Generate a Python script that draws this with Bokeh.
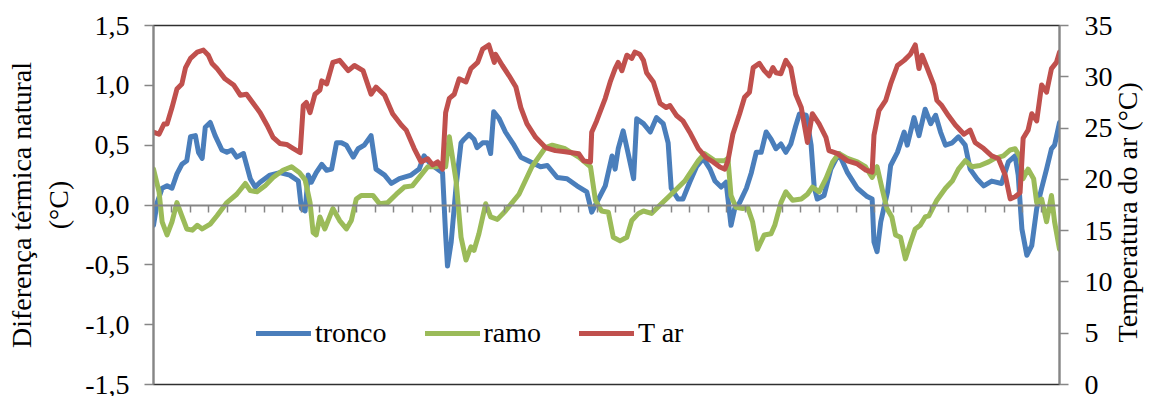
from math import pi
from bokeh.plotting import figure
from bokeh.models import Range1d, LinearAxis, FixedTicker
from bokeh.embed import file_html
from bokeh.resources import INLINE

# ---------------- data (hours from start) ----------------
t_tronco = [0.0, 0.6, 1.4, 2.2, 3.0, 3.8, 4.6, 5.4, 6.0, 6.8, 7.3, 7.9, 8.4, 9.2, 10.0, 11.1, 11.9, 12.7,
            13.5, 14.6, 15.7, 16.5, 17.3, 18.9, 20.5, 22.1, 23.5, 24.0, 24.6, 25.1, 25.6, 26.4, 27.3, 28.1,
            28.9, 29.7, 30.5, 31.3, 32.4, 33.2, 34.2, 35.3, 36.1, 37.5, 38.6, 39.9, 41.8, 43.1, 43.9, 45.0,
            46.1, 46.9, 47.4, 47.7, 48.3, 49.1, 49.9, 50.4, 51.2, 52.0, 52.5, 53.4, 54.2, 54.7, 55.2, 56.1,
            57.1, 58.5, 59.6, 61.2, 62.8, 63.9, 65.5, 67.1, 68.7, 70.3, 71.1, 71.9, 73.3, 74.4, 74.9, 75.4,
            76.2, 77.1, 77.9, 78.4, 79.5, 80.6, 81.6, 82.7, 83.5, 84.0, 85.1, 85.9, 87.0, 88.1, 89.2, 90.3,
            91.1, 92.1, 92.9, 93.7, 94.3, 95.1, 96.2, 97.0, 97.8, 98.6, 99.4, 100.2, 101.0, 101.8, 102.6,
            103.4, 104.2, 104.8, 105.9, 106.7, 107.2, 107.7, 108.8, 109.9, 111.2, 112.6, 114.2, 115.8, 116.6,
            116.9, 117.4, 118.0, 119.1, 119.6, 120.7, 121.8, 122.3, 123.4, 124.2, 124.7, 125.2, 126.1, 126.9,
            127.7, 128.5, 129.6, 130.6, 131.7, 132.5, 133.6, 134.7, 136.0, 137.6, 138.7, 139.8, 140.3, 140.9,
            141.7, 142.5, 143.3, 144.1, 144.9, 145.7, 146.2, 147.0]
tronco = [-0.17, 0.02, 0.14, 0.16, 0.14, 0.26, 0.34, 0.37, 0.57, 0.58, 0.44, 0.39, 0.65, 0.69, 0.58, 0.46, 0.44, 0.46,
          0.40, 0.43, 0.22, 0.15, 0.19, 0.25, 0.27, 0.25, 0.20, -0.03, -0.05, 0.25, 0.19, 0.27, 0.34, 0.29,
          0.30, 0.52, 0.52, 0.50, 0.40, 0.47, 0.50, 0.58, 0.30, 0.25, 0.18, 0.22, 0.25, 0.30, 0.41, 0.34,
          0.30, 0.27, -0.25, -0.51, -0.31, 0.16, 0.52, 0.55, 0.59, 0.55, 0.48, 0.52, 0.52, 0.43, 0.78, 0.72,
          0.61, 0.50, 0.40, 0.36, 0.32, 0.33, 0.23, 0.22, 0.16, 0.11, -0.06, 0.02, 0.16, 0.41, 0.30, 0.47,
          0.62, 0.41, 0.22, 0.72, 0.68, 0.61, 0.73, 0.68, 0.52, 0.14, 0.05, 0.05, 0.19, 0.32, 0.39, 0.30,
          0.20, 0.15, 0.19, -0.17, -0.03, 0.02, 0.14, 0.27, 0.44, 0.44, 0.61, 0.55, 0.47, 0.51, 0.44,
          0.51, 0.66, 0.76, 0.75, 0.50, 0.15, 0.05, 0.08, 0.30, 0.43, 0.27, 0.14, 0.07, 0.05,
          -0.31, -0.39, -0.14, 0.11, 0.33, 0.44, 0.61, 0.50, 0.73, 0.58, 0.69, 0.80, 0.68, 0.75,
          0.61, 0.50, 0.52, 0.57, 0.50, 0.30, 0.22, 0.16, 0.20, 0.18, 0.36, 0.41, 0.25, -0.20,
          -0.42, -0.34, -0.03, 0.14, 0.30, 0.47, 0.50, 0.69]

t_ramo = [0.0, 0.9, 1.4, 2.2, 3.0, 3.8, 4.6, 5.4, 6.3, 7.1, 7.9, 9.2, 10.3, 11.9, 13.5, 14.9, 15.7, 16.8, 18.1,
          19.4, 21.0, 22.4, 23.7, 24.6, 25.4, 25.9, 26.4, 27.0, 27.8, 29.1, 30.2, 31.3, 32.1, 32.9, 33.7,
          35.6, 36.7, 38.0, 39.4, 40.7, 42.0, 43.4, 44.5, 45.8, 46.6, 47.4, 48.0, 49.1, 49.9, 50.7, 51.5,
          52.0, 52.8, 53.9, 54.7, 55.8, 57.1, 59.3, 61.4, 63.6, 64.7, 66.8, 69.0, 70.9, 71.7, 72.7, 73.8,
          74.6, 75.7, 76.8, 77.6, 78.7, 79.5, 80.8, 82.4, 84.0, 86.2, 88.4, 89.4, 91.1, 92.7, 93.2, 93.7,
          94.5, 95.6, 96.4, 97.2, 98.0, 99.1, 100.2, 100.8, 101.8, 102.6, 103.7, 105.1, 106.1, 106.9, 108.0,
          109.1, 110.2, 111.2, 112.6, 114.2, 115.5, 116.6, 117.4, 118.2, 119.0, 119.8, 120.4, 121.2, 122.0,
          122.8, 123.6, 124.4, 125.2, 125.8, 127.1, 128.5, 129.6, 130.6, 131.7, 132.8, 134.1, 135.5, 136.5,
          137.9, 139.0, 139.8, 140.6, 141.1, 141.9, 142.8, 143.3, 144.1, 144.9, 145.7, 146.2, 147.0]
ramo = [0.30, 0.11, -0.14, -0.25, -0.14, 0.02, -0.09, -0.20, -0.21, -0.17, -0.20, -0.16, -0.09, 0.02, 0.09, 0.18, 0.12, 0.11, 0.16,
        0.23, 0.29, 0.32, 0.27, 0.21, 0.02, -0.23, -0.25, -0.10, -0.20, -0.03, -0.13, -0.20, -0.13, 0.05, 0.08,
        0.08, 0.01, 0.02, 0.09, 0.15, 0.16, 0.25, 0.32, 0.32, 0.33, 0.32, 0.57, 0.20, -0.27, -0.46, -0.35,
        -0.38, -0.24, 0.01, -0.10, -0.12, -0.05, 0.09, 0.32, 0.48, 0.50, 0.47, 0.40, 0.32, 0.04, -0.05, -0.06,
        -0.27, -0.30, -0.27, -0.13, -0.07, -0.05, -0.07, 0.01, 0.09, 0.20, 0.37, 0.43, 0.37, 0.37, 0.39, 0.08,
        -0.02, -0.03, -0.02, -0.14, -0.37, -0.25, -0.24, -0.17, 0.02, 0.11, 0.04, 0.05, 0.09, 0.15, 0.11,
        0.22, 0.36, 0.43, 0.39, 0.36, 0.32, 0.23, 0.32, 0.14, -0.03, -0.10, -0.25, -0.27, -0.45,
        -0.32, -0.20, -0.17, -0.10, -0.09, 0.04, 0.14, 0.20, 0.30, 0.37, 0.32, 0.33, 0.36, 0.39,
        0.41, 0.46, 0.47, 0.40, 0.22, 0.30, 0.22, 0.02, 0.05, -0.14, 0.08, -0.14, -0.37]

t_ar = [0.0, 0.9, 1.7, 2.2, 3.0, 3.8, 4.6, 5.2, 6.0, 7.1, 8.1, 8.9, 9.5, 10.3, 11.6, 13.0, 14.1, 15.1, 16.2,
        17.3, 18.4, 19.4, 20.5, 21.6, 22.7, 23.8, 24.3, 24.8, 25.4, 26.2, 27.0, 27.3, 28.1, 29.1, 30.2,
        31.6, 32.6, 34.0, 35.3, 36.1, 37.5, 38.8, 40.2, 41.0, 42.3, 43.4, 44.5, 45.3, 46.1, 46.9, 47.4,
        48.0, 48.8, 49.6, 50.7, 51.5, 52.6, 53.4, 54.4, 55.3, 55.5, 56.6, 57.7, 58.8, 59.6, 60.6, 62.0,
        63.6, 65.2, 66.8, 69.0, 69.8, 70.9, 71.1, 71.9, 73.3, 74.1, 74.9, 75.4, 76.0, 76.8, 77.6, 78.1,
        78.9, 79.5, 80.0, 81.1, 82.2, 83.2, 83.8, 84.9, 85.9, 87.0, 88.4, 89.7, 90.8, 91.9, 92.7, 93.2,
        94.0, 95.1, 95.9, 96.7, 97.3, 98.3, 99.1, 99.9, 100.5, 101.0, 101.8, 102.6, 103.4, 104.2, 105.1,
        106.1, 106.9, 108.0, 109.1, 109.6, 111.0, 112.6, 114.2, 115.6, 116.6, 116.9, 117.7, 118.8, 119.6,
        120.7, 121.8, 122.8, 123.6, 124.2, 124.7, 125.5, 126.6, 127.1, 127.9, 129.0, 130.1, 131.5, 132.5,
        133.3, 134.7, 136.0, 137.1, 138.2, 139.0, 139.8, 140.6, 141.1, 141.9, 142.5, 143.3, 144.1, 144.9,
        145.7, 146.5, 147.0]
t_ar_vals = [24.6, 24.4, 25.4, 25.4, 27.0, 28.8, 29.3, 30.9, 31.8, 32.4, 32.6, 32.1, 31.3, 30.8, 29.8, 29.2, 28.2, 28.3, 27.4,
             26.5, 25.3, 24.1, 23.5, 23.4, 23.0, 22.6, 27.2, 27.5, 26.5, 28.3, 28.7, 29.6, 29.3, 31.4, 31.6,
             30.6, 31.1, 30.6, 28.3, 29.0, 28.2, 26.4, 25.3, 24.8, 23.0, 21.7, 22.0, 21.4, 21.7, 21.0, 26.5,
             27.9, 28.3, 29.8, 29.5, 30.8, 31.4, 32.7, 33.1, 31.4, 32.2, 31.1, 30.1, 29.0, 27.0, 25.4, 24.1,
             23.1, 22.8, 22.7, 22.5, 21.8, 21.7, 24.6, 25.7, 27.9, 29.5, 30.8, 31.4, 30.6, 32.1, 31.8, 32.4,
             32.2, 31.6, 30.4, 29.5, 27.4, 27.0, 27.2, 26.2, 25.7, 24.6, 23.0, 22.1, 21.7, 21.2, 21.0, 21.8,
             24.4, 26.4, 28.0, 28.5, 30.9, 31.3, 30.6, 30.1, 30.9, 30.4, 30.3, 31.6, 30.9, 28.3, 27.0,
             23.6, 26.4, 25.4, 24.1, 22.8, 22.5, 21.8, 21.5, 20.9, 20.7, 24.3, 26.7, 27.7, 29.3,
             31.1, 31.6, 32.2, 33.1, 30.8, 32.1, 30.9, 29.2, 27.7, 27.2, 26.2, 25.3, 24.4, 24.8,
             23.6, 23.0, 22.3, 22.0, 20.4, 18.1, 18.3, 18.7, 24.0, 24.8, 26.4, 25.7, 29.2, 28.5,
             30.8, 31.4, 32.4]

left_ticks = [-1.5, -1.0, -0.5, 0.0, 0.5, 1.0, 1.5]
left_tick_labels = ["-1,5", "-1,0", "-0,5", "0,0", "0,5", "1,0", "1,5"]
right_ticks = [0, 5, 10, 15, 20, 25, 30, 35]
right_tick_labels = ["0", "5", "10", "15", "20", "25", "30", "35"]
x_ticks = list(range(0, 148, 3))

series_names = ["tronco", "ramo", "T ar"]
left_title = "Diferença térmica natural\n(°C)"
right_title = "Temperatura do ar (°C)"

# ---------------- styling ----------------
FONT = "Liberation Serif"
BLUE, GREEN, RED = "#4A7EBB", "#9BBB59", "#C0504D"
AXIS_GRAY = "#868686"

p = figure(width=1161, height=396, x_range=Range1d(0, 147), y_range=Range1d(-1.5, 1.5),
           output_backend="svg", toolbar_location=None,
           min_border_left=153, min_border_right=98, min_border_top=25, min_border_bottom=12)
p.extra_y_ranges = {"temp": Range1d(0, 35)}
p.grid.visible = False
p.outline_line_color = "#303030"
p.outline_line_width = 1.5
p.background_fill_color = "white"
p.border_fill_color = "white"

# x axis drawn on the zero line (tick marks only)
xa = p.xaxis[0]
xa.fixed_location = 0
xa.ticker = FixedTicker(ticks=x_ticks)
xa.major_label_text_color = None
xa.axis_line_color = AXIS_GRAY
xa.axis_line_width = 2
xa.major_tick_line_color = AXIS_GRAY
xa.major_tick_line_width = 1.5
xa.major_tick_out = 7
xa.major_tick_in = 0
xa.minor_tick_line_color = None


def style_y(ax):
    ax.axis_line_color = AXIS_GRAY
    ax.axis_line_width = 2
    ax.major_tick_line_color = AXIS_GRAY
    ax.major_tick_line_width = 1.5
    ax.major_tick_out = 9
    ax.major_tick_in = 0
    ax.minor_tick_line_color = None
    ax.major_label_text_font = FONT
    ax.major_label_text_font_size = "28px"
    ax.major_label_text_color = "black"
    ax.major_label_standoff = 15
    ax.axis_label_text_font = FONT
    ax.axis_label_text_font_size = "28px"
    ax.axis_label_text_font_style = "normal"
    ax.axis_label_text_color = "black"


ya = p.yaxis[0]
ya.ticker = FixedTicker(ticks=left_ticks)
ya.major_label_overrides = {k: v for k, v in zip(left_ticks, left_tick_labels)}
style_y(ya)
ya.axis_label = left_title
ya.axis_label_standoff = 8

ra = LinearAxis(y_range_name="temp", ticker=FixedTicker(ticks=right_ticks),
                major_label_overrides={k: v for k, v in zip(right_ticks, right_tick_labels)})
style_y(ra)
ra.major_label_standoff = 16
# the rotated title starts at the bottom of the axis; non-breaking spaces lift it to the reference position
ra.axis_label = "\u00a0" * 6 + right_title
ra.axis_label_standoff = 12
ra.axis_label_orientation = pi / 2
ra.axis_label_align = "start"
p.add_layout(ra, "right")

common = dict(line_width=5, line_join="round", line_cap="round")
p.line(t_tronco, tronco, color=BLUE, legend_label=series_names[0], **common)
p.line(t_ramo, ramo, color=GREEN, legend_label=series_names[1], **common)
p.line(t_ar, t_ar_vals, color=RED, y_range_name="temp", legend_label=series_names[2], **common)

lg = p.legend[0]
lg.location = (103, 35)
lg.orientation = "horizontal"
lg.background_fill_alpha = 0
lg.border_line_color = None
lg.padding = 0
lg.margin = 0
lg.glyph_width = 55
lg.glyph_height = 30
lg.label_height = 30
lg.label_standoff = 4
lg.spacing = 38
lg.label_text_font = FONT
lg.label_text_font_size = "28px"
lg.label_text_color = "black"

open("out.html", "w").write(file_html(p, INLINE))
